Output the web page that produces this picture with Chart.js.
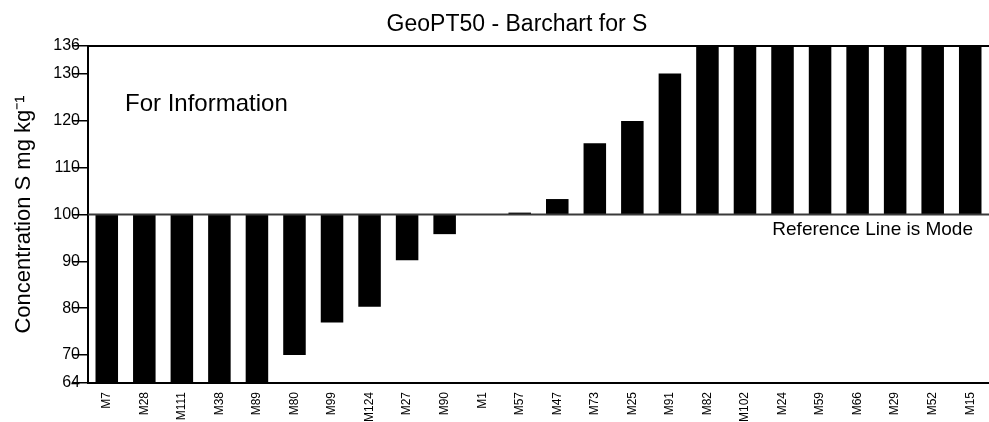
<!DOCTYPE html>
<html>
<head>
<meta charset="utf-8">
<script src="https://cdn.jsdelivr.net/npm/chart.js@4/dist/chart.umd.min.js"></script>
<style>
  html, body { margin: 0; padding: 0; background: #fff; }
  #wrap { width: 989px; height: 422px; position: relative; }
</style>
</head>
<body>
<div id="wrap"><canvas id="chart"></canvas></div>
<script>
// labs in the order of the bars
const labs = ["M7", "M28", "M111", "M38", "M89", "M80", "M99", "M124", "M27", "M90", "M1", "M57",
  "M47", "M73", "M25", "M91", "M82", "M102", "M24", "M59", "M66", "M29", "M52", "M15"];
// reported S values (mg/kg), the ones off the scale are clipped in the picture
const results = [50, 56, 58, 60, 62, 70, 76.9, 80.3, 90.2, 95.8, 100, 100.4,
  103.3, 115.2, 120, 130.1, 140, 142, 145, 148, 150, 155, 160, 170];
const yTicks = [64, 70, 80, 90, 100, 110, 120, 130, 136];
const refValue = 100; // mode

const chartTitle = "GeoPT50 - Barchart for S";
const yTitle = "Concentration S mg kg\u207B\u00B9";
const noteText = "For Information";
const refText = "Reference Line is Mode";

const FONT = "'Liberation Sans', Arial, sans-serif";

const extras = {
  id: "extras",
  afterDatasetsDraw(chart) {
    const { ctx, chartArea, scales } = chart;
    const yRef = scales.y.getPixelForValue(refValue);
    ctx.save();
    // reference line
    ctx.strokeStyle = "#3a3a3a";
    ctx.lineWidth = 2;
    ctx.beginPath();
    ctx.moveTo(chartArea.left, yRef);
    ctx.lineTo(chartArea.right, yRef);
    ctx.stroke();
    // top frame
    ctx.strokeStyle = "#000";
    ctx.beginPath();
    ctx.moveTo(chartArea.left, chartArea.top);
    ctx.lineTo(chartArea.right, chartArea.top);
    ctx.stroke();
    ctx.restore();
  },
  afterDraw(chart) {
    const { ctx, chartArea, scales } = chart;
    const yRef = scales.y.getPixelForValue(refValue);
    ctx.save();
    ctx.fillStyle = "#000";
    ctx.textBaseline = "alphabetic";

    ctx.font = "23px " + FONT;
    ctx.textAlign = "center";
    ctx.fillText(chartTitle, 517, 31);

    ctx.font = "24px " + FONT;
    ctx.textAlign = "left";
    ctx.fillText(noteText, 125, 111);

    ctx.font = "19px " + FONT;
    ctx.textAlign = "right";
    ctx.fillText(refText, 973, yRef + 21);

    ctx.translate(30, (chartArea.top + chartArea.bottom) / 2);
    ctx.rotate(-Math.PI / 2);
    ctx.font = "22px " + FONT;
    ctx.textAlign = "center";
    ctx.fillText(yTitle, 0, 0);
    ctx.restore();
  }
};

new Chart(document.getElementById("chart"), {
  type: "bar",
  data: {
    labels: labs,
    datasets: [{
      data: results.map(v => [refValue, v]),
      backgroundColor: "#000",
      borderWidth: 0,
      barPercentage: 0.6,
      categoryPercentage: 1
    }]
  },
  options: {
    responsive: true,
    maintainAspectRatio: false,
    animation: false,
    layout: { padding: { left: 43, top: 46, right: 0, bottom: 0 } },
    plugins: {
      legend: { display: false },
      title: { display: false },
      tooltip: { enabled: false }
    },
    scales: {
      x: {
        offset: true,
        border: { color: "#000", width: 2 },
        grid: { display: true, drawOnChartArea: false, drawTicks: true, tickLength: 9, color: "rgba(0,0,0,0)" },
        ticks: {
          color: "#000",
          padding: 0,
          maxRotation: 90,
          minRotation: 90,
          autoSkip: false,
          font: { family: FONT, size: 12 }
        }
      },
      y: {
        min: 64,
        max: 136,
        afterBuildTicks: axis => { axis.ticks = yTicks.map(v => ({ value: v })); },
        afterFit: axis => { axis.width = 45; },
        border: { color: "#000", width: 2 },
        grid: { drawOnChartArea: false, drawTicks: true, tickLength: 16, color: "#000", lineWidth: 1.5 },
        ticks: {
          color: "#000",
          padding: -8,
          font: { family: FONT, size: 16 }
        }
      }
    }
  },
  plugins: [extras]
});
</script>
</body>
</html>
